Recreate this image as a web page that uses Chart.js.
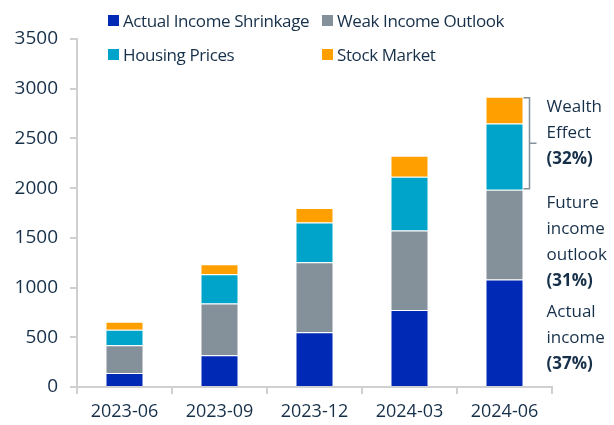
<!DOCTYPE html>
<html>
<head>
<meta charset="utf-8">
<script src="https://cdn.jsdelivr.net/npm/chart.js@4/dist/chart.umd.min.js"></script>
<style>
  html, body { margin: 0; padding: 0; background: #fff; }
  #wrap { position: relative; width: 614px; height: 425px; }
  #legend {
    position: absolute; left: 108px; top: 8px;
    display: grid; grid-template-columns: 214px auto; row-gap: 9px;
    font-family: "Open Sans", sans-serif; font-size: 17px; color: #17304a;
  }
  #legend .item { display: flex; align-items: center; height: 25px; letter-spacing: -0.4px; white-space: nowrap; }
  #legend .box { width: 11px; height: 11px; margin-right: 4px; flex: none; }
</style>
</head>
<body>
<div id="wrap">
  <canvas id="chart" width="614" height="425"></canvas>
  <div id="legend"></div>
</div>
<script>
const categories = ['2023-06', '2023-09', '2023-12', '2024-03', '2024-06'];
const actualIncome = [140, 320, 550, 775, 1080];
const weakOutlook = [280, 520, 705, 800, 905];
const housingPrices = [155, 295, 400, 540, 665];
const stockMarket = [80, 100, 145, 210, 270];
const seriesNames = ['Actual Income Shrinkage', 'Weak Income Outlook', 'Housing Prices', 'Stock Market'];
const seriesColors = ['#0029b5', '#84909a', '#00a4ca', '#ffa000'];
const yTicks = [0, 500, 1000, 1500, 2000, 2500, 3000, 3500];
const noteWealth = ['Wealth', 'Effect', '(32%)'];
const noteFuture = ['Future', 'income', 'outlook', '(31%)'];
const noteActual = ['Actual', 'income', '(37%)'];

const textColor = '#17304a';
const axisColor = '#d0d0d0';
const font = '"Open Sans", sans-serif';

const seriesData = [actualIncome, weakOutlook, housingPrices, stockMarket];

// html legend in two columns
const legendEl = document.getElementById('legend');
[0, 1, 2, 3].forEach(i => {
  const item = document.createElement('div');
  item.className = 'item';
  item.innerHTML = '<span class="box" style="background:' + seriesColors[i] + '"></span>' + seriesNames[i];
  legendEl.appendChild(item);
});

// side notes next to the last bar
const notesPlugin = {
  id: 'notes',
  afterDatasetsDraw(chart) {
    const ctx = chart.ctx;
    const y = chart.scales.y;
    const last = categories.length - 1;
    const bar = chart.getDatasetMeta(3).data[last];
    const right = bar.x + bar.width / 2;
    const a = actualIncome[last], w = weakOutlook[last];
    const total = a + w + housingPrices[last] + stockMarket[last];
    const yTop = y.getPixelForValue(total);
    const yGray = y.getPixelForValue(a + w);
    const yBlue = y.getPixelForValue(a);
    const y0 = y.getPixelForValue(0);

    // bracket
    ctx.save();
    ctx.strokeStyle = '#84909a';
    ctx.lineWidth = 1.5;
    const bx = right + 6;
    ctx.beginPath();
    ctx.moveTo(bx - 6, yTop + 1);
    ctx.lineTo(bx, yTop + 1);
    ctx.lineTo(bx, yGray - 1);
    ctx.lineTo(bx - 6, yGray - 1);
    ctx.moveTo(bx, (yTop + yGray) / 2);
    ctx.lineTo(bx + 7, (yTop + yGray) / 2);
    ctx.stroke();

    const tx = right + 23;
    const lh = 26;
    const block = (lines, cy) => {
      const start = cy - (lines.length - 1) * lh / 2;
      lines.forEach((t, i) => {
        const bold = i === lines.length - 1;
        ctx.font = (bold ? '700 ' : '400 ') + '17px ' + font;
        ctx.fillStyle = textColor;
        ctx.textAlign = 'left';
        ctx.textBaseline = 'middle';
        ctx.fillText(t, tx, start + i * lh);
      });
    };
    block(noteWealth, (yTop + yGray) / 2 - 10);
    block(noteFuture, (yGray + yBlue) / 2 + 8);
    block(noteActual, (yBlue + y0) / 2 + 5);
    ctx.restore();
  }
};

new Chart(document.getElementById('chart'), {
  type: 'bar',
  data: {
    labels: categories,
    datasets: seriesData.map((d, i) => ({
      label: seriesNames[i],
      data: d,
      backgroundColor: seriesColors[i],
      borderColor: 'rgba(255,255,255,0.35)',
      borderWidth: 1,
      barPercentage: 0.4,
      categoryPercentage: 1
    }))
  },
  options: {
    responsive: false,
    animation: false,
    layout: { padding: { top: 39, right: 62, left: 0, bottom: 0 } },
    plugins: {
      legend: { display: false },
      tooltip: { enabled: false }
    },
    scales: {
      x: {
        stacked: true,
        grid: { display: true, drawOnChartArea: false, offset: true, tickLength: 7, color: axisColor, lineWidth: 2 },
        border: { color: axisColor, width: 2 },
        ticks: { color: textColor, font: { family: font, size: 18 }, padding: 7, maxRotation: 0 },
        afterFit(s) { s.height = 38; }
      },
      y: {
        stacked: true,
        min: 0,
        max: 3500,
        afterBuildTicks(s) { s.ticks = yTicks.map(v => ({ value: v })); },
        grid: { display: true, drawOnChartArea: false, tickLength: 7, color: axisColor, lineWidth: 2 },
        border: { color: axisColor, width: 2 },
        ticks: { color: textColor, font: { family: font, size: 19 }, padding: 12, callback: v => String(v) },
        afterFit(s) { s.width = 77; }
      }
    }
  },
  plugins: [notesPlugin]
});
</script>
</body>
</html>
